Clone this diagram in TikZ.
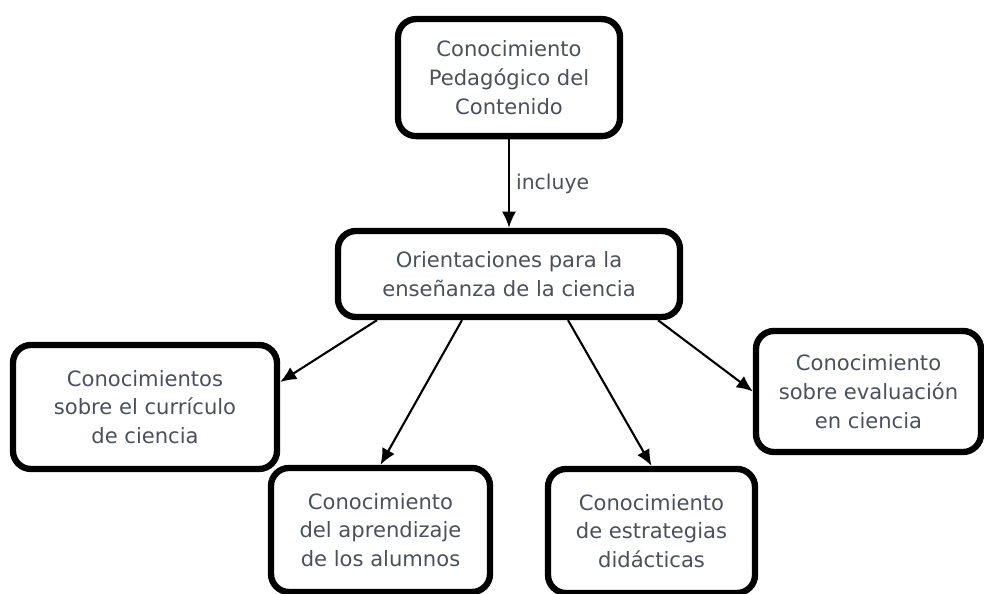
\documentclass[tikz,border=0pt]{standalone}
\usepackage{fontspec}
\setmainfont{DejaVu Sans}
\usetikzlibrary{arrows.meta,positioning}
\definecolor{txtgray}{RGB}{75,80,90}

\begin{document}
\begin{tikzpicture}
[>={Latex[length=11.5pt,width=10pt]},
concept/.style = {draw, line width=4.5pt, rounded corners=0.45cm, fill=white, text=txtgray, align=center, inner sep=0pt, font=\fontsize{15}{20.5}\selectfont},
link/.style = {->, line width=1.5pt},]
\useasboundingbox (0,0) rectangle (24.6,14.85);
\node (pck) at (12.725,12.91)[concept, minimum width=5.55cm, minimum height=2.925cm] {Conocimiento\\Pedagógico del\\Contenido};
\node (orient) at (12.725,8.0)[concept, minimum width=8.55cm, minimum height=2.15cm] {Orientaciones para la\\enseñanza de la ciencia};
\node (curr) at (3.625,4.675)[concept, minimum width=6.6cm, minimum height=3.1cm] {Conocimientos\\sobre el currículo\\de ciencia};
\node (apren) at (9.5125,1.6)[concept, minimum width=5.475cm, minimum height=3.1cm] {Conocimiento\\del aprendizaje\\de los alumnos};
\node (estrat) at (16.2875,1.575)[concept, minimum width=5.175cm, minimum height=3.1cm] {Conocimiento\\de estrategias\\didácticas};
\node (eval) at (21.7125,5.0625)[concept, minimum width=5.625cm, minimum height=3.025cm] {Conocimiento\\sobre evaluación\\en ciencia};
\draw[link] (pck.south) -- node[right, text=txtgray, font=\fontsize{14.5}{17}\selectfont, xshift=1pt] {incluye} (orient.north);
\draw[link] ([xshift=-3.3cm]orient.south) -- ([yshift=0.625cm]curr.east);
\draw[link] ([xshift=-1.175cm]orient.south) -- (apren.north);
\draw[link] ([xshift=1.475cm]orient.south) -- (estrat.north);
\draw[link] ([xshift=3.725cm]orient.south) -- (eval.west);

\end{tikzpicture}
\end{document}
